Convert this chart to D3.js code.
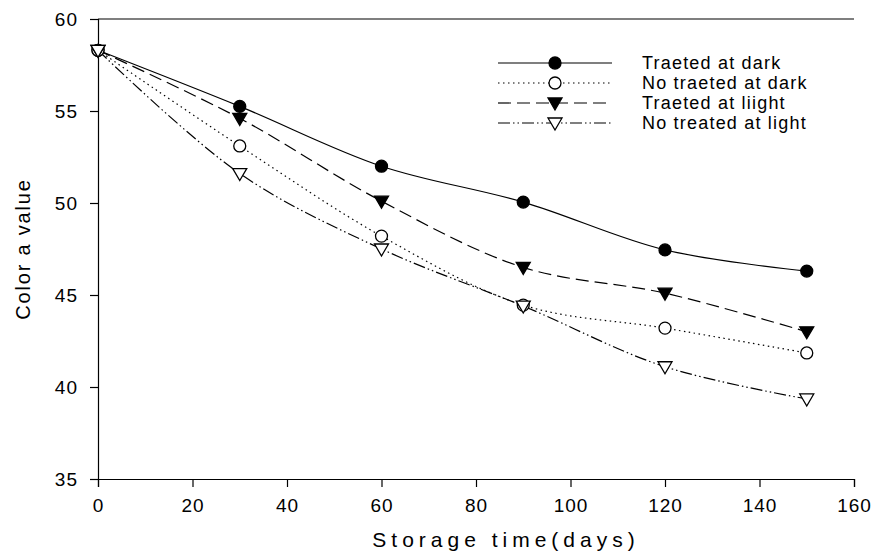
<!DOCTYPE html>
<html>
<head>
<meta charset="utf-8">
<script src="https://cdn.jsdelivr.net/npm/d3@7"></script>
<style>
  body { margin: 0; background: #fff; }
  text { font-family: "Liberation Sans", Arial, sans-serif; fill: #000; }
</style>
</head>
<body>
<div id="plot"></div>
<script>
//Set Height and Width Vars;
const w = 873;
const h = 559;
const margin = {top: 19, right: 19, bottom: 80, left: 98};

//Data;
const days = [0, 30, 60, 90, 120, 150];
const traetedDark = [58.3, 55.25, 52.0, 50.05, 47.45, 46.3];
const noTraetedDark = [58.3, 53.1, 48.2, 44.45, 43.2, 41.85];
const traetedLight = [58.3, 54.6, 50.1, 46.5, 45.1, 43.0];
const noTreatedLight = [58.3, 51.6, 47.5, 44.4, 41.1, 39.35];
const seriesNames = ["Traeted at dark", "No traeted at dark", "Traeted at liight", "No treated at light"];
const xTicks = [0, 20, 40, 60, 80, 100, 120, 140, 160];
const yTicks = [35, 40, 45, 50, 55, 60];

//Series styles;
const series = [
  {name: seriesNames[0], values: traetedDark, dash: null, marker: "circle", filled: true},
  {name: seriesNames[1], values: noTraetedDark, dash: "1.5,3.5", marker: "circle", filled: false},
  {name: seriesNames[2], values: traetedLight, dash: "13,6", marker: "triangle", filled: true},
  {name: seriesNames[3], values: noTreatedLight, dash: "12,3,1.5,3,1.5,3", marker: "triangle", filled: false}
];

//Initialize SVG;
const svg = d3.select("#plot")
  .append("svg")
    .attr("width", w)
    .attr("height", h);

const x = d3.scaleLinear().domain([0, 160]).range([margin.left, w - margin.right]);
const y = d3.scaleLinear().domain([35, 60]).range([h - margin.bottom, margin.top]);

//Axes;
svg.append("g")
  .attr("transform", "translate(0," + (h - margin.bottom) + ")")
  .call(d3.axisBottom(x).tickValues(xTicks).tickSize(8).tickPadding(12).tickFormat(d3.format("d")))
  .call(g => g.selectAll("text").attr("font-size", 19).attr("letter-spacing", 1).style("font-family", "Liberation Sans, Arial"));

svg.append("g")
  .attr("transform", "translate(" + margin.left + ",0)")
  .call(d3.axisLeft(y).tickValues(yTicks).tickSize(8).tickPadding(12).tickFormat(d3.format("d")))
  .call(g => g.selectAll("text").attr("font-size", 19).attr("letter-spacing", 1).style("font-family", "Liberation Sans, Arial"));

svg.selectAll(".domain").attr("stroke-width", 1.2);
svg.selectAll(".tick line").attr("stroke-width", 1.2);

//Top frame line;
svg.append("line")
  .attr("x1", x(0)).attr("x2", x(160))
  .attr("y1", y(60)).attr("y2", y(60))
  .attr("stroke", "#000").attr("stroke-width", 1.2);

//Axis titles;
svg.append("text")
  .attr("x", 506)
  .attr("y", 547)
  .attr("text-anchor", "middle")
  .attr("font-size", 21)
  .attr("letter-spacing", 5)
  .text("Storage time(days)");

svg.append("text")
  .attr("transform", "translate(30," + ((y(35) + y(60)) / 2) + ") rotate(-90)")
  .attr("text-anchor", "middle")
  .attr("font-size", 20)
  .attr("letter-spacing", 1.8)
  .text("Color a value");

//Line generator;
const line = d3.line()
  .x((d, i) => x(days[i]))
  .y(d => y(d))
  .curve(d3.curveCatmullRom.alpha(0.5));

function drawMarker(g, type, filled, cx, cy) {
  if (type === "circle") {
    g.append("circle")
      .attr("cx", cx).attr("cy", cy).attr("r", 6)
      .attr("fill", filled ? "#000" : "#fff")
      .attr("stroke", "#000").attr("stroke-width", 1.3);
  } else {
    g.append("path")
      .attr("d", "M" + (cx - 7) + "," + (cy - 5) + "L" + (cx + 7) + "," + (cy - 5) + "L" + cx + "," + (cy + 7) + "Z")
      .attr("fill", filled ? "#000" : "#fff")
      .attr("stroke", "#000").attr("stroke-width", 1.3);
  }
}

//Draw series;
series.forEach(function(s) {
  svg.append("path")
    .datum(s.values)
    .attr("d", line)
    .attr("fill", "none")
    .attr("stroke", "#000")
    .attr("stroke-width", 1.2)
    .attr("stroke-dasharray", s.dash);
});

series.forEach(function(s) {
  const g = svg.append("g");
  s.values.forEach(function(v, i) {
    drawMarker(g, s.marker, s.filled, x(days[i]), y(v));
  });
});

//Legend;
const legend = svg.append("g");
series.forEach(function(s, i) {
  const ly = 63 + i * 20;
  legend.append("line")
    .attr("x1", 498).attr("x2", 612)
    .attr("y1", ly).attr("y2", ly)
    .attr("stroke", "#000").attr("stroke-width", 1.2)
    .attr("stroke-dasharray", s.dash);
  drawMarker(legend, s.marker, s.filled, 555, ly);
  legend.append("text")
    .attr("x", 642).attr("y", ly)
    .attr("dy", "0.36em")
    .attr("font-size", 18)
    .attr("letter-spacing", 1.2)
    .text(s.name);
});
</script>
</body>
</html>
